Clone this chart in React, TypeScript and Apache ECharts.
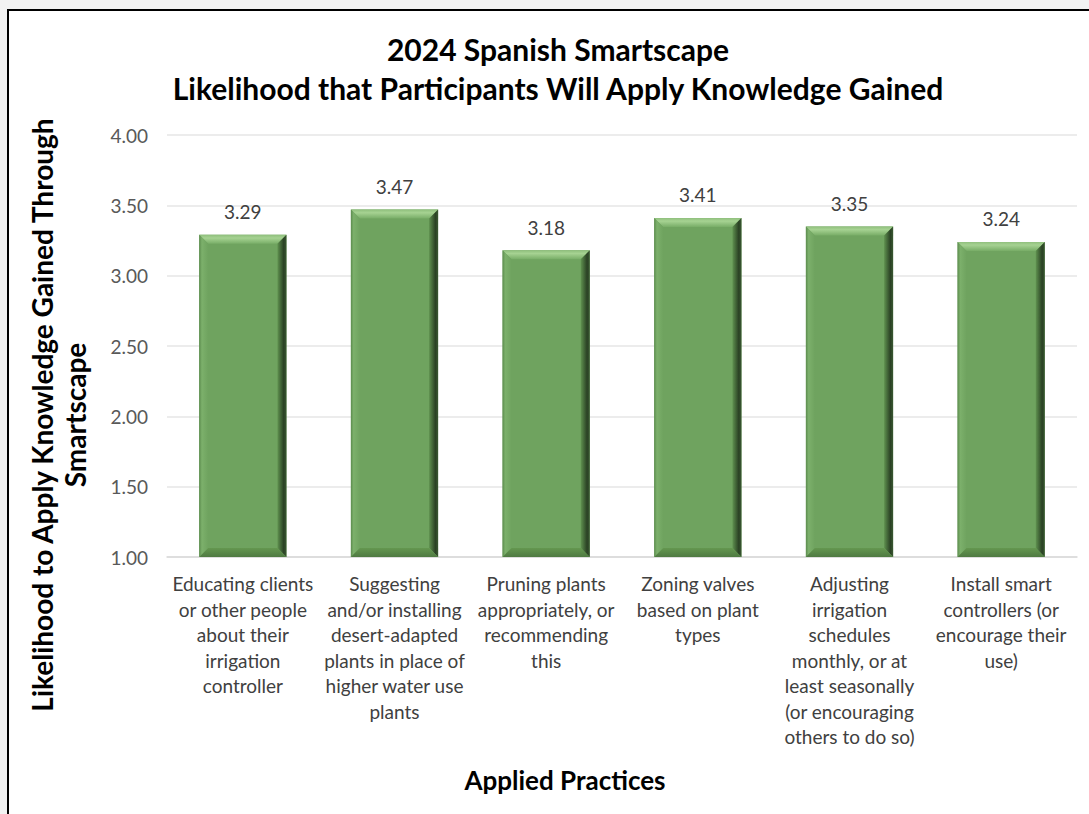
import React, { useEffect, useRef } from "react";
import * as echarts from "echarts";

const categories = [
  "Educating clients\nor other people\nabout their\nirrigation\ncontroller",
  "Suggesting\nand/or installing\ndesert-adapted\nplants in place of\nhigher water use\nplants",
  "Pruning plants\nappropriately, or\nrecommending\nthis",
  "Zoning valves\nbased on plant\ntypes",
  "Adjusting\nirrigation\nschedules\nmonthly, or at\nleast seasonally\n(or encouraging\nothers to do so)",
  "Install smart\ncontrollers (or\nencourage their\nuse)",
];
const values = [3.29, 3.47, 3.18, 3.41, 3.35, 3.24];
const yTicks = { min: 1, max: 4, interval: 0.5 };
const titleLines = [
  "2024 Spanish Smartscape",
  "Likelihood that Participants Will Apply Knowledge Gained",
];
const yAxisTitle = "Likelihood to Apply Knowledge Gained Through\nSmartscape";
const xAxisTitle = "Applied Practices";

const FONT = "Lato";

export default function App() {
  const ref = useRef<HTMLDivElement>(null);
  useEffect(() => {
    if (!ref.current) return;
    const chart = echarts.init(ref.current, undefined, { renderer: "svg" });
    const LG = echarts.graphic.LinearGradient;
    chart.setOption({
      animation: false,
      grid: { left: 167, right: 12, top: 135, bottom: 257 },
      xAxis: {
        type: "category",
        data: categories,
        axisLine: { lineStyle: { color: "#d9d9d9", width: 1.5 } },
        axisTick: { show: false },
        axisLabel: {
          interval: 0,
          color: "#404040",
          fontFamily: FONT,
          fontSize: 19,
          lineHeight: 25.5,
          margin: 14,
          verticalAlign: "top",
        },
      },
      yAxis: {
        type: "value",
        min: yTicks.min,
        max: yTicks.max,
        interval: yTicks.interval,
        axisLine: { show: false },
        axisTick: { show: false },
        splitLine: { lineStyle: { color: "#e6e6e6", width: 1.5 } },
        axisLabel: {
          color: "#595959",
          fontFamily: FONT,
          fontSize: 19,
          margin: 19,
          formatter: (v: number) => v.toFixed(2),
        },
      },
      graphic: [
        {
          type: "text",
          x: 558,
          y: 68,
          style: {
            text: titleLines.join("\n"),
            font: `bold 30px ${FONT}`,
            fill: "#000",
            align: "center",
            verticalAlign: "middle",
            lineHeight: 39,
          },
        },
        {
          type: "text",
          x: 58,
          y: 415,
          rotation: Math.PI / 2,
          style: {
            text: yAxisTitle,
            font: `bold 28px ${FONT}`,
            fill: "#000",
            align: "center",
            verticalAlign: "middle",
            lineHeight: 33,
          },
        },
        {
          type: "text",
          x: 565,
          y: 780,
          style: {
            text: xAxisTitle,
            font: `bold 26px ${FONT}`,
            fill: "#000",
            align: "center",
            verticalAlign: "middle",
          },
        },
      ],
      series: [
        {
          type: "custom",
          data: values.map((v, i) => [i, v]),
          encode: { x: 0, y: 1 },
          renderItem: (params: any, api: any) => {
            const v = api.value(1);
            const top = api.coord([api.value(0), v]);
            const base = api.coord([api.value(0), yTicks.min]);
            const bw = api.size([1, 0])[0] * 0.575;
            const x0 = top[0] - bw / 2;
            const x1 = top[0] + bw / 2;
            const y0 = top[1];
            const y1 = base[1];
            const b = 9;
            return {
              type: "group",
              children: [
                {
                  type: "rect",
                  shape: { x: x0, y: y0, width: bw, height: y1 - y0 },
                  style: { fill: "#6fa35f" },
                },
                {
                  type: "polygon",
                  shape: {
                    points: [
                      [x0, y0],
                      [x1, y0],
                      [x1 - b, y0 + b],
                      [x0 + b, y0 + b],
                    ],
                  },
                  style: {
                    fill: new LG(0, 0, 0, 1, [
                      { offset: 0, color: "#8fbf7c" },
                      { offset: 0.35, color: "#a6d292" },
                      { offset: 1, color: "#78ad67" },
                    ]),
                  },
                },
                {
                  type: "polygon",
                  shape: {
                    points: [
                      [x1, y0],
                      [x1, y1],
                      [x1 - b, y1 - b],
                      [x1 - b, y0 + b],
                    ],
                  },
                  style: {
                    fill: new LG(0, 0, 1, 0, [
                      { offset: 0, color: "#5f914f" },
                      { offset: 0.7, color: "#2a4124" },
                      { offset: 1, color: "#3a5832" },
                    ]),
                  },
                },
                {
                  type: "polygon",
                  shape: {
                    points: [
                      [x0, y0],
                      [x0 + b, y0 + b],
                      [x0 + b, y1 - b],
                      [x0, y1],
                    ],
                  },
                  style: {
                    fill: new LG(0, 0, 1, 0, [
                      { offset: 0, color: "#5c8c4e" },
                      { offset: 0.3, color: "#7cb06b" },
                      { offset: 1, color: "#6fa35f" },
                    ]),
                  },
                },
                {
                  type: "polygon",
                  shape: {
                    points: [
                      [x0, y1],
                      [x0 + b, y1 - b],
                      [x1 - b, y1 - b],
                      [x1, y1],
                    ],
                  },
                  style: {
                    fill: new LG(0, 0, 0, 1, [
                      { offset: 0, color: "#64974f" },
                      { offset: 1, color: "#4f7a42" },
                    ]),
                  },
                },
                {
                  type: "text",
                  x: top[0],
                  y: y0 - 23,
                  style: {
                    text: v.toFixed(2),
                    font: `19px ${FONT}`,
                    fill: "#404040",
                    align: "center",
                    verticalAlign: "middle",
                  },
                },
              ],
            };
          },
        },
      ],
    });
    return () => chart.dispose();
  }, []);

  return (
    <div
      style={{
        position: "fixed",
        left: 0,
        top: 0,
        width: 1089,
        height: 814,
        background: "#f2f2f2",
        overflow: "hidden",
      }}
    >
      <div
        style={{
          position: "absolute",
          left: 7,
          top: 9,
          width: 1110,
          height: 830,
          background: "#fff",
          border: "2px solid #000",
          boxSizing: "border-box",
        }}
      />
      <div
        ref={ref}
        style={{ position: "absolute", left: 0, top: 0, width: 1089, height: 814 }}
      />
    </div>
  );
}
